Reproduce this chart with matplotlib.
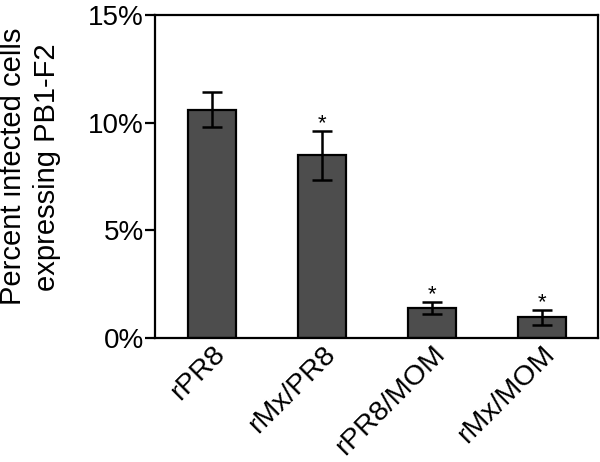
import matplotlib.pyplot as plt
import matplotlib as mpl
import matplotlib.transforms as mtransforms
from matplotlib.ticker import FuncFormatter, MultipleLocator

mpl.rcParams['font.family'] = ['Liberation Sans', 'DejaVu Sans']

groups = ["rPR8", "rMx/PR8", "rPR8/MOM", "rMx/MOM"]
means = [10.6, 8.48, 1.38, 0.96]
errs = [0.82, 1.12, 0.28, 0.34]
signif = [False, True, True, True]

fig = plt.figure(figsize=(6.0, 4.62), dpi=100)
ax = fig.add_axes([0.258, 0.268, 0.739, 0.700])

x = list(range(len(groups)))
ax.bar(x, means, width=0.44, color="#4d4d4d", edgecolor="black", linewidth=1.6, zorder=2)
ax.errorbar(x, means, yerr=errs, fmt="none", ecolor="black", elinewidth=1.8,
            capsize=7, capthick=1.8, zorder=3)

# 星号
for xi, m, e, s in zip(x, means, errs, signif):
    if s:
        ax.annotate("*", (xi, m + e), xytext=(0, -2), textcoords="offset points",
                    ha="center", va="bottom", fontsize=16)

ax.set_xlim(-0.52, 3.51)
ax.set_ylim(0, 15)
ax.yaxis.set_major_locator(MultipleLocator(5))
ax.yaxis.set_major_formatter(FuncFormatter(lambda v, p: "%d%%" % v))

ax.set_xticks(x)
ax.set_xticklabels(groups, rotation=45, ha="right", rotation_mode="anchor", fontsize=20.5)
offset = mtransforms.ScaledTranslation(15 / 72, 0, fig.dpi_scale_trans)
for lab in ax.get_xticklabels():
    lab.set_transform(lab.get_transform() + offset)
ax.tick_params(axis="x", length=0, pad=2)
ax.tick_params(axis="y", length=7, width=1.6, labelsize=20, pad=1, direction="out")

for sp in ax.spines.values():
    sp.set_linewidth(1.6)

ax.set_ylabel("Percent infected cells\nexpressing PB1-F2", fontsize=21,
              linespacing=1.25)
ax.yaxis.set_label_coords(-0.212, 0.53)

fig.savefig("out.png", dpi=100)
